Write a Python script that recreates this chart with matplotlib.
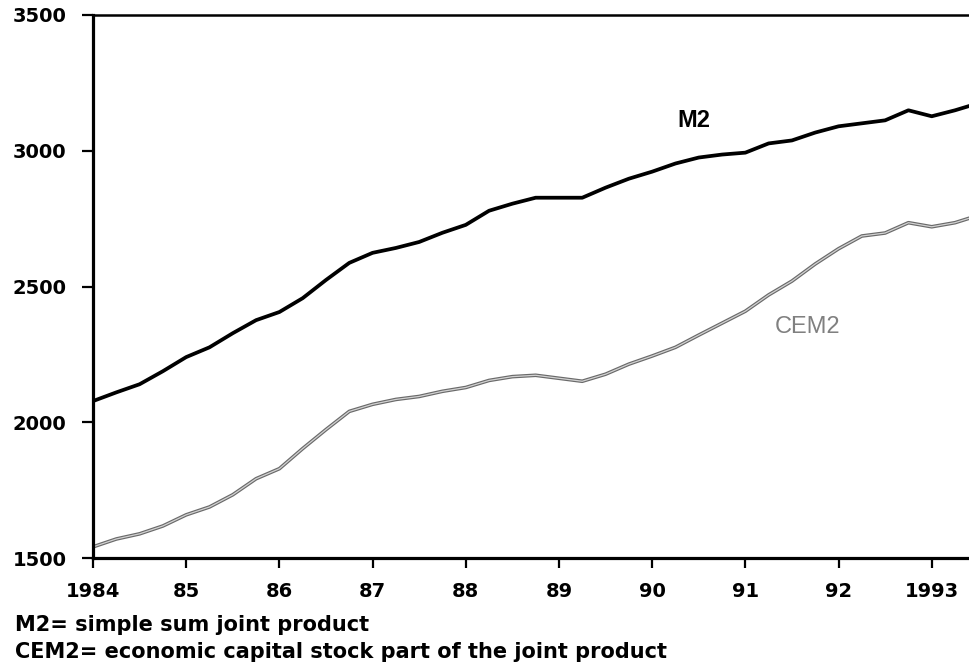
import numpy as np
import matplotlib
matplotlib.use("Agg")
import matplotlib.pyplot as plt

# quarterly observations, 1984Q1 .. 1993Q3
quarters = [1984 + 0.25 * i for i in range(39)]

m2 = [2078, 2110, 2140, 2188, 2240, 2276, 2328, 2376, 2406, 2457,
      2524, 2587, 2624, 2642, 2664, 2698, 2727, 2779, 2805, 2827,
      2827, 2827, 2864, 2897, 2923, 2953, 2975, 2986, 2993, 3027,
      3038, 3067, 3090, 3101, 3112, 3149, 3127, 3149, 3175]

cem2 = [1541, 1570, 1589, 1618, 1659, 1688, 1733, 1792, 1829, 1903,
        1973, 2040, 2066, 2084, 2095, 2114, 2128, 2154, 2168, 2173,
        2162, 2151, 2177, 2214, 2244, 2276, 2321, 2365, 2409, 2469,
        2520, 2583, 2639, 2686, 2697, 2735, 2720, 2735, 2762]

xticks = [1984, 1985, 1986, 1987, 1988, 1989, 1990, 1991, 1992, 1993]
xticklabels = ["1984", "85", "86", "87", "88", "89", "90", "91", "92", "1993"]
yticks = [1500, 2000, 2500, 3000, 3500]

fig = plt.figure(figsize=(9.69, 6.68), dpi=100)
ax = fig.add_axes([93 / 969, 1 - 558 / 668, 1 - 93 / 969, (558 - 15) / 668])

ax.plot(quarters, m2, color="black", lw=2.7, solid_joinstyle="round")
# hollow grey look of the CEM2 line
ax.plot(quarters, cem2, color="#6a6a6a", lw=2.6, solid_joinstyle="round")
ax.plot(quarters, cem2, color="#d2d2d2", lw=0.9, solid_joinstyle="round")

ax.text(1990.45, 3110, "M2", family="Liberation Sans", fontweight="bold",
        fontsize=17, ha="center", va="center")
ax.text(1991.67, 2350, "CEM2", family="Liberation Sans", color="#808080",
        fontsize=17, ha="center", va="center")

ax.set_xlim(1984, 1993.4)
ax.set_ylim(1500, 3500)
ax.set_xticks(xticks)
ax.set_xticklabels(xticklabels)
ax.set_yticks(yticks)

for lab in ax.get_xticklabels() + ax.get_yticklabels():
    lab.set_fontweight("bold")
    lab.set_fontsize(14)
    lab.set_family("DejaVu Sans")

ax.tick_params(axis="y", direction="out", length=8, width=1.6, pad=11)
ax.tick_params(axis="x", direction="out", length=7, width=1.6, pad=10)

ax.spines["right"].set_visible(False)
ax.spines["left"].set_linewidth(2.3)
ax.spines["bottom"].set_linewidth(2.3)
ax.spines["top"].set_linewidth(1.8)

fig.text(15 / 969, 1 - 631 / 668, "M2= simple sum joint product",
         fontsize=15, fontweight="bold", va="baseline", ha="left")
fig.text(15 / 969, 1 - 658 / 668, "CEM2= economic capital stock part of the joint product",
         fontsize=15, fontweight="bold", va="baseline", ha="left")

fig.savefig("out.png", dpi=100)
